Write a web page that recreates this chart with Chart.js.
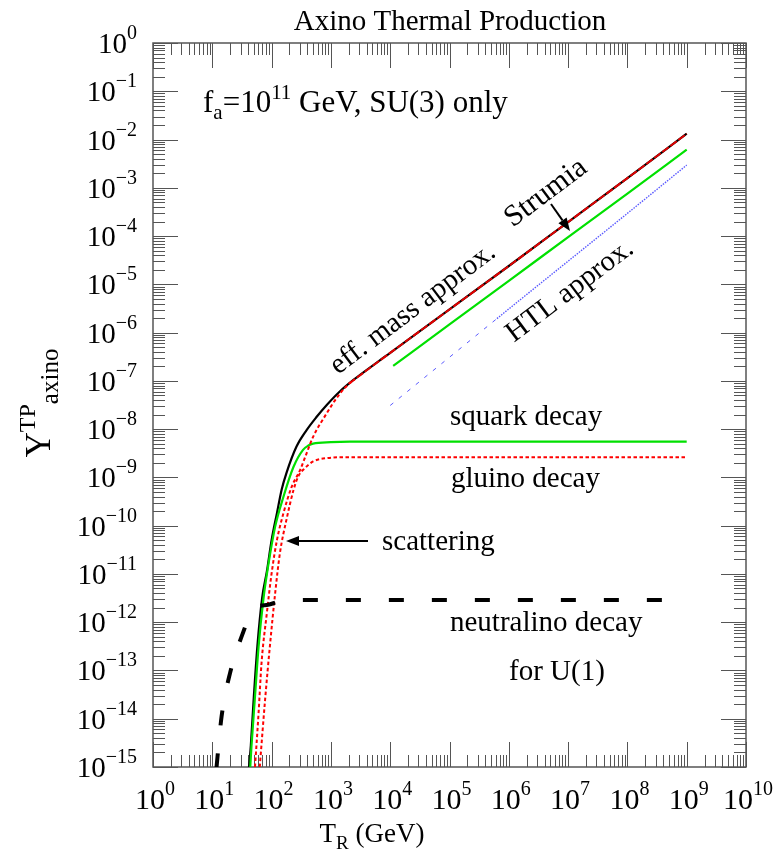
<!DOCTYPE html>
<html lang="en">
<head>
    <meta charset="UTF-8">
    <title>Axino Thermal Production</title>
    <script src="https://cdn.jsdelivr.net/npm/chart.js"></script>
    <style>
        body { margin: 0; background: #fff; }
        #chart { display: block; }
    </style>
</head>
<body>
    <canvas id="chart" width="774" height="857"></canvas>

    <script>
        // axis decades (exponents of 10)
        const xTickExps = [0, 1, 2, 3, 4, 5, 6, 7, 8, 9, 10];
        const yTickExps = [0, -1, -2, -3, -4, -5, -6, -7, -8, -9, -10, -11, -12, -13, -14, -15];

        // all curves as log10(T_R) / log10(Y)
        const effMassLogT = [1.62, 1.65, 1.70, 1.76, 1.84, 1.92, 2.00, 2.09, 2.17, 2.25, 2.42, 2.59, 2.75, 2.93, 3.15, 3.38, 3.83, 4, 5, 6, 7, 8, 9];
        const effMassLogY = [-15, -14.55, -13.55, -12.5, -11.5, -10.95, -10.30, -9.74, -9.25, -8.91, -8.36, -8.02, -7.76, -7.50, -7.22, -6.98, -6.57, -6.42, -5.52, -4.62, -3.71, -2.80, -1.88];

        const scatterLogT = [1.72, 1.78, 1.83, 1.92, 2.00, 2.09, 2.20, 2.34, 2.48, 2.59, 2.70, 2.93, 3.10, 3.27, 3.40];
        const scatterLogY = [-15, -13.89, -12.85, -11.81, -10.99, -10.30, -9.74, -9.19, -8.85, -8.50, -8.16, -7.67, -7.35, -7.10, -6.97];

        const strumiaRedLogT = [3.30, 4, 5, 6, 7, 8, 9];
        const strumiaRedLogY = [-7.06, -6.42, -5.52, -4.62, -3.71, -2.80, -1.88];

        const strumiaLogT = [4.05, 5, 6, 7, 8, 9];
        const strumiaLogY = [-6.69, -5.83, -4.93, -4.02, -3.12, -2.21];

        const htlLogT = [4.0, 5.0, 5.8];
        const htlLogY = [-7.51, -6.51, -5.71];
        const htlDenseLogT = [5.8, 6, 7, 8, 9];
        const htlDenseLogY = [-5.71, -5.51, -4.52, -3.53, -2.53];

        const squarkLogT = [1.64, 1.66, 1.72, 1.78, 1.86, 1.94, 2.06, 2.20, 2.37, 2.53, 2.62, 2.70, 3.0, 3.32, 9];
        const squarkLogY = [-15, -14.58, -13.54, -12.51, -11.54, -10.85, -10.02, -9.40, -8.78, -8.43, -8.34, -8.30, -8.27, -8.26, -8.26];

        const gluinoLogT = [1.80, 1.89, 1.97, 2.06, 2.14, 2.25, 2.37, 2.45, 2.56, 2.70, 2.93, 3.3, 9];
        const gluinoLogY = [-15, -13.61, -12.51, -11.40, -10.57, -9.88, -9.26, -8.98, -8.81, -8.67, -8.60, -8.58, -8.58];

        const neutralinoLogT = [1.06, 1.157, 1.298, 1.523, 1.62, 1.737, 1.94, 2.14, 2.65, 9];
        const neutralinoLogY = [-15.15, -13.95, -13.06, -12.2, -11.91, -11.70, -11.64, -11.57, -11.54, -11.54];

        function toPoints(logT, logY) {
            return logT.map((t, i) => ({ x: Math.pow(10, t), y: Math.pow(10, logY[i]) }));
        }

        const serif = '"Liberation Serif", "Times New Roman", serif';

        // draws a run of text pieces (size, vertical shift) left to right
        function richText(ctx, parts, x, y, align) {
            let total = 0;
            parts.forEach(p => {
                ctx.font = p.size + 'px ' + serif;
                p.w = ctx.measureText(p.t).width;
                total += p.w;
            });
            let cx = x;
            if (align === 'center') cx = x - total / 2;
            if (align === 'right') cx = x - total;
            ctx.textAlign = 'left';
            ctx.textBaseline = 'alphabetic';
            parts.forEach(p => {
                ctx.font = p.size + 'px ' + serif;
                ctx.fillText(p.t, cx, y + (p.dy || 0));
                cx += p.w;
            });
        }

        function arrow(ctx, x1, y1, x2, y2) {
            const ang = Math.atan2(y2 - y1, x2 - x1);
            const hl = 13, hw = 5;
            ctx.strokeStyle = '#000';
            ctx.fillStyle = '#000';
            ctx.lineWidth = 2;
            ctx.beginPath();
            ctx.moveTo(x1, y1);
            ctx.lineTo(x2 - hl * Math.cos(ang), y2 - hl * Math.sin(ang));
            ctx.stroke();
            ctx.beginPath();
            ctx.moveTo(x2, y2);
            ctx.lineTo(x2 - hl * Math.cos(ang) + hw * Math.sin(ang), y2 - hl * Math.sin(ang) - hw * Math.cos(ang));
            ctx.lineTo(x2 - hl * Math.cos(ang) - hw * Math.sin(ang), y2 - hl * Math.sin(ang) + hw * Math.cos(ang));
            ctx.closePath();
            ctx.fill();
        }

        function rotatedText(ctx, text, cx, cy, deg, size) {
            ctx.save();
            ctx.translate(cx, cy);
            ctx.rotate(deg * Math.PI / 180);
            ctx.font = size + 'px ' + serif;
            ctx.textAlign = 'center';
            ctx.textBaseline = 'middle';
            ctx.fillText(text, 0, 0);
            ctx.restore();
        }

        // frame with inward ticks on all four sides
        const framePlugin = {
            id: 'frame',
            beforeDatasetsDraw(chart) {
                const { ctx, chartArea: a, scales } = chart;
                const xs = scales.x, ys = scales.y;
                ctx.save();
                ctx.strokeStyle = '#555';
                ctx.lineWidth = 1;
                ctx.beginPath();
                xTickExps.forEach(e => {
                    for (let k = 1; k <= 9; k++) {
                        if (k > 1 && e === 10) break;
                        const px = Math.round(xs.getPixelForValue(k * Math.pow(10, e))) + 0.5;
                        const len = k === 1 ? 25 : 12;
                        ctx.moveTo(px, a.bottom); ctx.lineTo(px, a.bottom - len);
                        ctx.moveTo(px, a.top); ctx.lineTo(px, a.top + len);
                    }
                });
                yTickExps.forEach(e => {
                    for (let k = 1; k <= 9; k++) {
                        if (k > 1 && e === 0) break;
                        const py = Math.round(ys.getPixelForValue(k * Math.pow(10, e))) + 0.5;
                        const len = k === 1 ? 25 : 12;
                        ctx.moveTo(a.left, py); ctx.lineTo(a.left + len, py);
                        ctx.moveTo(a.right, py); ctx.lineTo(a.right - len, py);
                    }
                });
                ctx.stroke();
                ctx.lineWidth = 1.5;
                ctx.strokeRect(a.left, a.top, a.right - a.left, a.bottom - a.top);
                ctx.restore();
            },
            afterDraw(chart) {
                const { ctx, scales } = chart;
                const xs = scales.x, ys = scales.y;
                ctx.save();
                ctx.fillStyle = '#000';

                // tick labels
                xTickExps.forEach(e => {
                    const px = xs.getPixelForValue(Math.pow(10, e));
                    richText(ctx, [{ t: '10', size: 30 }, { t: String(e), size: 20, dy: -14 }], px + 2, 809, 'center');
                });
                yTickExps.forEach(e => {
                    const py = ys.getPixelForValue(Math.pow(10, e));
                    const lab = e === 0 ? '0' : '\u2212' + Math.abs(e);
                    richText(ctx, [{ t: '10', size: 29 }, { t: lab, size: 20, dy: -14 }], 137, py + 10, 'right');
                });

                // title and axis titles
                richText(ctx, [{ t: 'Axino Thermal Production', size: 29 }], 450, 30, 'center');
                richText(ctx, [{ t: 'T', size: 27 }, { t: 'R', size: 19, dy: 7 }, { t: ' (GeV)', size: 27 }], 372, 842, 'center');
                ctx.save();
                ctx.translate(50, 403);
                ctx.rotate(-Math.PI / 2);
                richText(ctx, [{ t: 'Y', size: 35 }, { t: 'TP', size: 24, dy: -15 }, { t: 'axino', size: 25, dy: 8 }], 0, 0, 'center');
                ctx.restore();

                // annotations
                richText(ctx, [{ t: 'f', size: 31 }, { t: 'a', size: 21, dy: 7 }, { t: '=10', size: 31 },
                    { t: '11', size: 21, dy: -13 }, { t: ' GeV, SU(3) only', size: 31 }], 203, 112, 'left');
                richText(ctx, [{ t: 'squark decay', size: 29 }], 450, 425, 'left');
                richText(ctx, [{ t: 'gluino decay', size: 29 }], 451, 487, 'left');
                richText(ctx, [{ t: 'scattering', size: 29 }], 382, 550, 'left');
                richText(ctx, [{ t: 'neutralino decay', size: 29 }], 450, 631, 'left');
                richText(ctx, [{ t: 'for U(1)', size: 29 }], 509, 680, 'left');

                rotatedText(ctx, 'eff. mass approx.', 413, 309, -37, 29);
                rotatedText(ctx, 'Strumia', 546, 193, -37, 30);
                rotatedText(ctx, 'HTL approx.', 570, 291, -37, 29);

                arrow(ctx, 551, 204, 570, 231);
                arrow(ctx, 368, 541, 286, 541);
                ctx.restore();
            }
        };

        const ctx = document.getElementById('chart').getContext('2d');

        new Chart(ctx, {
            type: 'line',
            data: {
                datasets: [
                    { label: 'neutralino decay', data: toPoints(neutralinoLogT, neutralinoLogY), borderColor: '#000', borderWidth: 4, borderDash: [15, 28], borderDashOffset: -6, borderCapStyle: 'butt' },
                    { label: 'scattering', data: toPoints(scatterLogT, scatterLogY), borderColor: '#ff0000', borderWidth: 2, borderDash: [3.5, 2.5] },
                    { label: 'gluino decay', data: toPoints(gluinoLogT, gluinoLogY), borderColor: '#ff0000', borderWidth: 2, borderDash: [3.5, 2.5] },
                    { label: 'eff. mass (red)', data: toPoints(strumiaRedLogT, strumiaRedLogY), borderColor: '#e00000', borderWidth: 2, borderDash: [8, 2] },
                    { label: 'squark decay', data: toPoints(squarkLogT, squarkLogY), borderColor: '#00e000', borderWidth: 2.2 },
                    { label: 'Strumia', data: toPoints(strumiaLogT, strumiaLogY), borderColor: '#00e000', borderWidth: 2.2 },
                    { label: 'eff. mass approx.', data: toPoints(effMassLogT, effMassLogY), borderColor: '#000', borderWidth: 2.2 },
                    { label: 'HTL approx.', data: toPoints(htlLogT, htlLogY), borderColor: '#5a5aff', borderWidth: 1, borderDash: [4, 7] },
                    { label: 'HTL approx. (dense)', data: toPoints(htlDenseLogT, htlDenseLogY), borderColor: '#5a5aff', borderWidth: 1.4, borderDash: [1.5, 1.2] }
                ]
            },
            options: {
                responsive: false,
                animation: false,
                layout: { padding: { left: 153, top: 43, right: 28, bottom: 90 } },
                scales: {
                    x: { type: 'logarithmic', min: 1, max: 1e10, display: false },
                    y: { type: 'logarithmic', min: 1e-15, max: 1, display: false }
                },
                elements: {
                    point: { radius: 0 },
                    line: { cubicInterpolationMode: 'monotone', fill: false }
                },
                plugins: {
                    legend: { display: false },
                    tooltip: { enabled: false }
                }
            },
            plugins: [framePlugin]
        });
    </script>
</body>
</html>
